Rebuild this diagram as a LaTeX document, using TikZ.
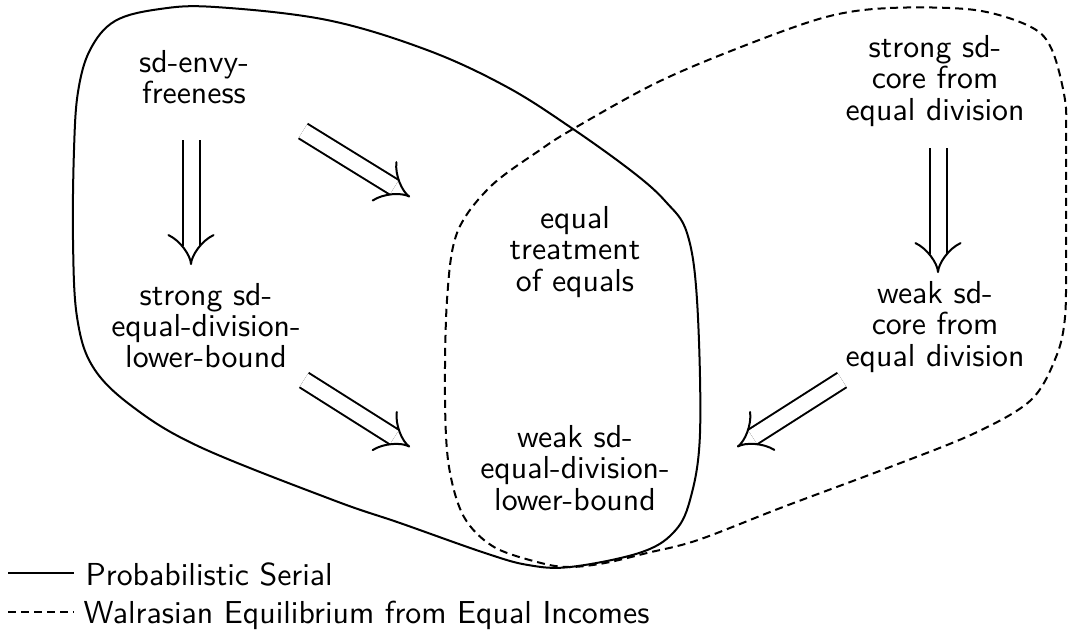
\documentclass[tikz,border=0pt]{standalone}
\usetikzlibrary{arrows.meta}
\begin{document}
\begin{tikzpicture}[x=0.33333pt,y=-0.33333pt,
  lbl/.style={font=\sffamily\fontsize{10.6}{10.4}\selectfont, align=center, inner sep=0pt},
  imp/.style={double, double distance=5pt, line width=0.667pt, -{Implies[length=9pt,width=13.3pt]}},
  psline/.style={line width=0.667pt},
  weline/.style={line width=0.667pt, dash pattern=on 2.67pt off 1.67pt},
  legtext/.style={font=\sffamily\fontsize{10.6}{10.4}\selectfont, inner sep=0pt, anchor=base west}]
\useasboundingbox (0,0) rectangle (1068,634);

% regions
\draw[psline] plot[smooth cycle, tension=0.6] coordinates {
 (74,150) (78,92) (90,50) (115,21) (160,9) (215,7) (327,20) (427,50) (507,87) (573,129)
 (634,173) (666,202) (687,233) (697,300) (700,433) (690,500) (673,533) (639,553)
 (570,567) (528,565) (485,553) (400,523) (333,500) (200,447) (133,407) (93,367)
 (77,317) (73,240)};
\draw[weline] plot[smooth cycle, tension=0.55] coordinates {
 (826,17) (890,8) (975,10) (1031,27) (1052,50) (1065,100) (1066,140) (1066,250)
 (1065,317) (1056,357) (1031,400) (975,433) (890,467) (783,507) (698,540) (647,553)
 (605,563) (570,567) (541,563) (494,547) (464,517) (449,467) (445,400) (447,300)
 (457,233) (490,187) (540,150) (573,129) (656,83) (741,47)};

% properties
\node[lbl] (A) at (194,77) {sd-envy-\\freeness};
\node[lbl] (B) at (206,325.5) {strong sd-\\equal-division-\\lower-bound};
\node[lbl] (C) at (575,252) {equal\\treatment\\of equals};
\node[lbl] (D) at (575,468) {weak sd-\\equal-division-\\lower-bound};
\node[lbl] (E) at (935,81) {strong sd-\\core from\\equal division};
\node[lbl] (F) at (935,327) {weak sd-\\core from\\equal division};

% implications
\draw[imp] ([shift={(-3,63)}]A.center) -- ([shift={(-15,-60.5)}]B.center);
\draw[imp] ([shift={(109,54)}]A.center) -- ([shift={(-165,-55)}]C.center);
\draw[imp] ([shift={(98,54.5)}]B.center) -- ([shift={(-165,-21)}]D.center);
\draw[imp] ([shift={(-93,53)}]F.center) -- ([shift={(162,-21)}]D.center);
\draw[imp] ([shift={(3,67)}]E.center) -- ([shift={(3,-54)}]F.center);

% legend
\node[legtext] (L1) at (85,585) {Probabilistic Serial};
\node[legtext] (L2) at (83,623) {Walrasian Equilibrium from Equal Incomes};
\coordinate (l1a) at (8,573);
\coordinate (l2a) at (8,612);
\draw[psline] (l1a) -- ([xshift=-3.7pt]l1a -| L1.west);
\draw[weline] (l2a) -- ([xshift=-3pt]l2a -| L2.west);
\end{tikzpicture}
\end{document}
